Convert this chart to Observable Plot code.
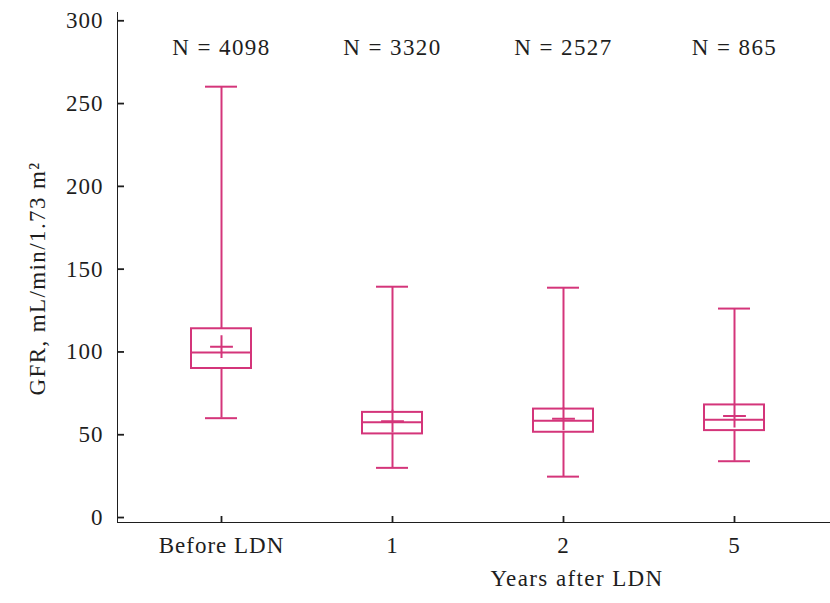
<!DOCTYPE html>
<html>
<head>
<meta charset="utf-8">
<script src="https://cdn.jsdelivr.net/npm/d3@7"></script>
<script src="https://cdn.jsdelivr.net/npm/@observablehq/plot@0.6"></script>
<style>
  html, body { margin: 0; padding: 0; background: #fff; }
  #chart svg text { letter-spacing: 1px; }
  #chart g[aria-label="text"] text { letter-spacing: 1.4px; }
  #chart g[aria-label="frame"] { stroke-width: 1.8px; }
  #chart g[aria-label="y-axis tick"], #chart g[aria-label="x-axis tick"] { stroke-width: 1.8px; }
</style>
</head>
<body>
<div id="chart"></div>
<script>
// ---- data ----
const categories = ["Before LDN", "1", "2", "5"];
const nLabels = ["N = 4098", "N = 3320", "N = 2527", "N = 865"];
const whiskerLow = [60, 30, 24.7, 34];
const quartile1 = [90, 50.5, 51.5, 52.5];
const medians = [99.6, 57.5, 58.5, 59];
const quartile3 = [114, 63.5, 65.5, 68];
const whiskerHigh = [260.2, 139.4, 138.8, 126.2];
const means = [103.2, 58.2, 59.6, 61.3];
const yTicks = [0, 50, 100, 150, 200, 250, 300];
const yLabel = "GFR, mL/min/1.73 m\u00B2";
const xLabel = "Years after LDN";

const boxes = categories.map((c, i) => ({
  cat: c, n: nLabels[i], lo: whiskerLow[i], q1: quartile1[i],
  med: medians[i], q3: quartile3[i], hi: whiskerHigh[i], mean: means[i]
}));

const pink = "#d4357a";
const ink = "#1e1e1e";
const sw = 2;

const chart = Plot.plot({
  width: 830,
  height: 603,
  marginTop: 12,
  marginBottom: 81,
  marginLeft: 117,
  marginRight: 0,
  insetLeft: 7,
  style: {fontFamily: "'Liberation Serif', 'Times New Roman', serif", fontSize: "23px", color: ink, background: "#fff"},
  x: {type: "band", domain: categories, paddingInner: 0.651, paddingOuter: 0.378,
      tickSize: -6, tickPadding: 20, label: null, line: true},
  y: {domain: [-3, 305], ticks: yTicks, tickSize: -7, tickPadding: 21, label: null, line: true},
  marks: [
    // whiskers
    Plot.ruleX(boxes, {x: "cat", y1: "q3", y2: "hi", stroke: pink, strokeWidth: sw}),
    Plot.ruleX(boxes, {x: "cat", y1: "lo", y2: "q1", stroke: pink, strokeWidth: sw}),
    Plot.tickY(boxes, {x: "cat", y: "hi", stroke: pink, strokeWidth: sw, insetLeft: 14, insetRight: 14}),
    Plot.tickY(boxes, {x: "cat", y: "lo", stroke: pink, strokeWidth: sw, insetLeft: 14, insetRight: 14}),
    // boxes
    Plot.barY(boxes, {x: "cat", y1: "q1", y2: "q3", fill: "none", stroke: pink, strokeWidth: sw}),
    Plot.tickY(boxes, {x: "cat", y: "med", stroke: pink, strokeWidth: sw}),
    // means
    Plot.dot(boxes, {x: "cat", y: "mean", symbol: "plus", r: 7.4, stroke: pink, strokeWidth: sw}),
    // N labels
    Plot.text(boxes, {x: "cat", text: "n", frameAnchor: "top", lineAnchor: "middle", dy: 35, fill: ink}),
    // axis titles
    Plot.text([xLabel], {frameAnchor: "bottom", lineAnchor: "bottom", textAnchor: "middle", dx: 103, dy: 63, fill: ink}),
    Plot.text([yLabel], {frameAnchor: "left", textAnchor: "middle", lineAnchor: "middle", dx: -80, dy: 11, rotate: -90, fill: ink})
  ]
});
document.getElementById("chart").appendChild(chart);
</script>
</body>
</html>
